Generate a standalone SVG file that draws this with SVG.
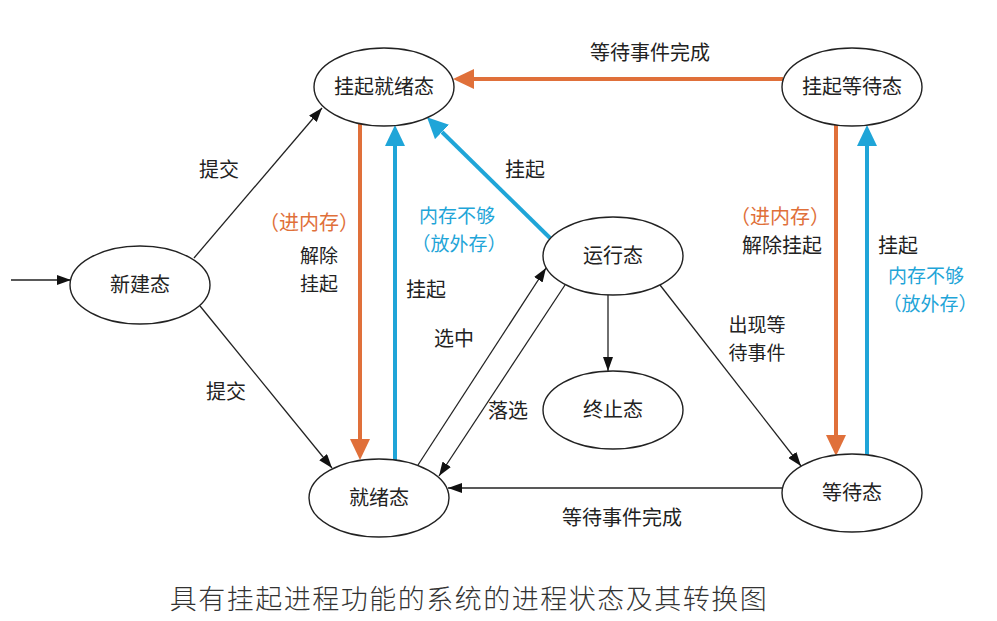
<svg xmlns="http://www.w3.org/2000/svg" width="997" height="621" viewBox="0 0 997 621">
<style>
  .node ellipse { fill: #ffffff; stroke: #222222; stroke-width: 1.4; }
  text { font-family: "Noto Sans CJK SC", "Noto Sans", sans-serif; font-size: 20px; text-anchor: middle; fill: #222222; }
  .two { font-size: 19px; }
  .or { fill: #E0703A; }
  .bl { fill: #1FA5D8; }
  .title { font-size: 27px; letter-spacing: 1.5px; fill: #333333; font-weight: 300; }
  .k { stroke: #222222; stroke-width: 1.3; fill: none; marker-end: url(#ak); }
  .o { stroke: #E0703A; stroke-width: 4; fill: none; marker-end: url(#ao); }
  .b { stroke: #1FA5D8; stroke-width: 4; fill: none; marker-end: url(#ab); }
</style>
<defs>
  <marker id="ak" markerUnits="userSpaceOnUse" markerWidth="14" markerHeight="10" refX="14" refY="5" orient="auto">
    <path d="M0,0 L14,5 L0,10 z" fill="#111111"/>
  </marker>
  <marker id="ao" markerUnits="userSpaceOnUse" markerWidth="21" markerHeight="20" refX="0" refY="10" orient="auto">
    <path d="M0,0 L21,10 L0,20 z" fill="#E0703A"/>
  </marker>
  <marker id="ab" markerUnits="userSpaceOnUse" markerWidth="21" markerHeight="20" refX="0" refY="10" orient="auto">
    <path d="M0,0 L21,10 L0,20 z" fill="#1FA5D8"/>
  </marker>
</defs>
<rect width="997" height="621" fill="#ffffff"/>

<g id="connectors">
  <line class="k" x1="11" y1="280" x2="71" y2="280"/>
  <line class="k" x1="194" y1="258" x2="322" y2="108"/>
  <line class="k" x1="200" y1="306" x2="332" y2="468"/>
  <line class="k" x1="418" y1="465" x2="546" y2="268"/>
  <line class="k" x1="565" y1="285" x2="439" y2="476"/>
  <line class="k" x1="608" y1="295" x2="608" y2="371"/>
  <line class="k" x1="660" y1="285" x2="801" y2="466"/>
  <line class="k" x1="782" y1="488" x2="448" y2="488"/>
  <line class="o" x1="360" y1="124" x2="360" y2="439"/>
  <line class="b" x1="395" y1="460" x2="395" y2="146"/>
  <line class="b" x1="550" y1="238" x2="442" y2="132"/>
  <line class="o" x1="783" y1="79" x2="474" y2="79"/>
  <line class="o" x1="836" y1="125" x2="836" y2="435"/>
  <line class="b" x1="867" y1="455" x2="867" y2="146"/>
</g>

<g id="node-new" class="node"><ellipse cx="140" cy="285" rx="70" ry="39"/><text x="140" y="292">新建态</text></g>
<g id="node-suspend-ready" class="node"><ellipse cx="384" cy="87" rx="70" ry="39"/><text x="384" y="94">挂起就绪态</text></g>
<g id="node-suspend-wait" class="node"><ellipse cx="852" cy="87" rx="70" ry="39"/><text x="852" y="94">挂起等待态</text></g>
<g id="node-running" class="node"><ellipse cx="613" cy="256" rx="70" ry="39"/><text x="613" y="263">运行态</text></g>
<g id="node-terminated" class="node"><ellipse cx="613" cy="410" rx="70" ry="39"/><text x="613" y="417">终止态</text></g>
<g id="node-wait" class="node"><ellipse cx="852" cy="493" rx="70" ry="39"/><text x="852" y="500">等待态</text></g>
<g id="node-ready" class="node"><ellipse cx="379" cy="498" rx="70" ry="39"/><text x="379" y="505">就绪态</text></g>

<g id="labels">
  <text x="219" y="177">提交</text>
  <text x="226" y="399">提交</text>
  <text class="or" x="309" y="230">（进内存）</text>
  <text class="two" x="319" y="263">解除<tspan x="319" dy="28">挂起</tspan></text>
  <text x="426" y="297">挂起</text>
  <text class="two bl" x="457" y="223">内存不够<tspan x="459" dy="28">（放外存）</tspan></text>
  <text x="525" y="177">挂起</text>
  <text x="650" y="60">等待事件完成</text>
  <text class="or" x="780" y="224">（进内存）</text>
  <text x="782" y="253">解除挂起</text>
  <text x="898" y="253">挂起</text>
  <text class="two bl" x="926" y="283">内存不够<tspan x="930" dy="28">（放外存）</tspan></text>
  <text x="454" y="346">选中</text>
  <text x="508" y="418">落选</text>
  <text class="two" x="757" y="332">出现等<tspan x="757" dy="28">待事件</tspan></text>
  <text x="622" y="525">等待事件完成</text>
  <text class="title" x="469" y="609">具有挂起进程功能的系统的进程状态及其转换图</text>
</g>
</svg>
